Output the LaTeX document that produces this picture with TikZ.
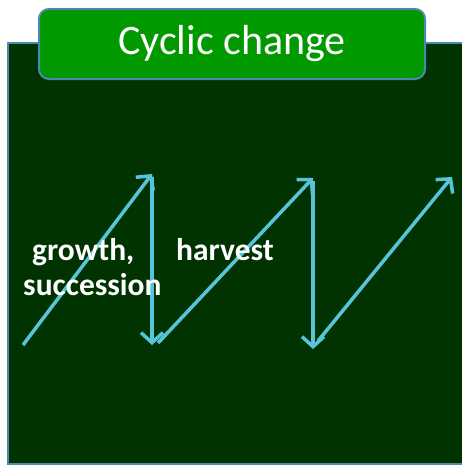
\documentclass[tikz,border=0pt]{standalone}
\usepackage{fontspec}
\setmainfont{Carlito}
\usetikzlibrary{arrows.meta}
\definecolor{boardgreen}{HTML}{003300}
\definecolor{titlegreen}{HTML}{009900}
\definecolor{edgeblue}{HTML}{4A8AAA}
\definecolor{arrowcyan}{HTML}{57C4DC}
\begin{document}
\begin{tikzpicture}[x=1pt,y=1pt]
\tikzstyle{every node}+=[inner sep=0pt]
\tikzset{
  titlebox/.style={draw=edgeblue,line width=2pt,fill=titlegreen,rounded corners=10pt,
    minimum width=386pt,minimum height=70pt,text=white,font=\fontsize{42}{50}\selectfont},
  labeltext/.style={text=white,font=\fontsize{31.5}{38}\selectfont\bfseries},
  cyclearrow/.style={draw=arrowcyan,line width=3.5pt,
    -{Straight Barb[length=10pt,width=22pt,line width=3.5pt]}}
}
\useasboundingbox (0,0) rectangle (461,-466);
% board
\draw [edgeblue,fill=boardgreen,line width=2pt] (8,-43) rectangle (480,-464);
\node [titlebox] (title) at (232,-44) {Cyclic change};
% saw-tooth
\coordinate (g1) at (23,-345);
\coordinate (t1) at (152,-174);
\coordinate (s1) at (152,-177);
\coordinate (b1) at (152,-345);
\coordinate (g2) at (158,-343);
\coordinate (t2) at (313,-178);
\coordinate (s2) at (313,-181);
\coordinate (b2) at (313,-349);
\coordinate (g3) at (318,-341);
\coordinate (t3) at (452,-177);
\draw [cyclearrow] (g1) -- (t1);
\draw [cyclearrow] (s1) -- (b1);
\draw [cyclearrow] (g2) -- (t2);
\draw [cyclearrow] (s2) -- (b2);
\draw [cyclearrow] (g3) -- (t3);
% labels
\node [labeltext,anchor=base west] (growth) at (32,-260) {growth,};
\node [labeltext,anchor=base west] (succession) at (23,-295) {succession};
\node [labeltext,anchor=base west] (harvest) at (176,-260) {harvest};
\end{tikzpicture}
\end{document}
